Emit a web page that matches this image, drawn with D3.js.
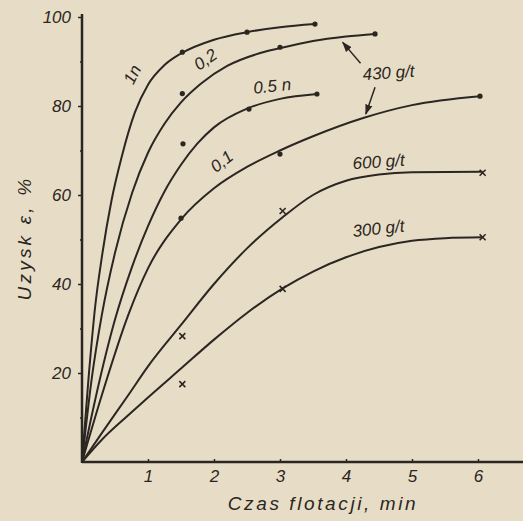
<!DOCTYPE html>
<html>
<head>
<meta charset="utf-8">
<script src="https://cdn.jsdelivr.net/npm/d3@7"></script>
<style>
  html, body { margin: 0; padding: 0; background: #e7ddc6; }
  svg { display: block; }
  text { font-family: "Liberation Sans Narrow", "Liberation Sans", Arial, sans-serif; font-style: italic; fill: #2b2622; }
</style>
</head>
<body>
<div id="chart"></div>
<script>
// axis ticks
const xTicks = [1, 2, 3, 4, 5, 6];
const yTicks = [10, 20, 30, 40, 50, 60, 70, 80, 90, 100];

// smoothed curves: [time min, recovery %]
const curve1n = [[0, 0], [0.1, 19], [0.2, 35], [0.3, 46], [0.45, 59], [0.6, 68.5], [0.8, 78.5], [1.0, 84.8],
  [1.25, 89.2], [1.5, 91.8], [2.0, 94.9], [2.5, 96.6], [3.0, 97.7], [3.53, 98.4]];
const curve02 = [[0, 0], [0.15, 19], [0.3, 33], [0.5, 47], [0.76, 60.5], [1.0, 69.5], [1.25, 76], [1.5, 80.8],
  [1.8, 85], [2.2, 89], [2.7, 91.9], [3.0, 93], [3.5, 94.6], [4.0, 95.6], [4.44, 96.2]];
const curve05 = [[0, 0], [0.2, 14], [0.5, 32], [0.75, 43.5], [1.0, 53], [1.25, 60.8], [1.5, 66.8], [1.75, 71.6],
  [2.0, 75.2], [2.5, 79.4], [3.0, 81.6], [3.56, 82.7]];
const curve01 = [[0, 0], [0.3, 15], [0.7, 33], [1.0, 43.5], [1.5, 54.5], [2.0, 61.5], [2.5, 66.3], [3.0, 70],
  [3.5, 73.2], [4.26, 77.3], [5.0, 80.2], [6.03, 82.2]];
const curve600 = [[0, 0], [0.3, 6.5], [0.7, 15], [1.0, 21.5], [1.5, 30.8], [2.0, 40], [2.5, 48], [3.04, 55],
  [3.5, 60], [4.0, 63.2], [4.5, 64.6], [5.0, 65.1], [6.07, 65.2]];
const curve300 = [[0, 0], [0.3, 5], [0.7, 10.5], [1.0, 14.5], [1.5, 21], [2.0, 27.5], [2.5, 33.5], [3.04, 39],
  [3.5, 42.8], [4.0, 46], [4.5, 48.3], [5.0, 49.7], [5.5, 50.3], [6.07, 50.5]];

// measured points
const dots1n = [[1.52, 92.1], [2.5, 96.6], [3.53, 98.4]];
const dots02 = [[1.52, 82.8], [3.0, 93.2], [4.44, 96.2]];
const dots05 = [[1.53, 71.5], [2.53, 79.3], [3.56, 82.7]];
const dots01 = [[1.5, 54.8], [3.0, 69.2], [6.03, 82.2]];
const cross600 = [[1.52, 28.3], [3.04, 56.4], [6.07, 65]];
const cross300 = [[1.52, 17.5], [3.04, 38.9], [6.07, 50.5]];

// curve labels: text, x, y, angle
const curveLabels = [
  ['1n', 0.84, 86.5, -64],
  ['0,2', 1.92, 89.4, -35],
  ['0.5 n', 2.89, 83.2, -6],
  ['0,1', 2.17, 66.5, -38],
  ['430 g/t', 4.65, 86.2, -4],
  ['600 g/t', 4.5, 66.2, -4],
  ['300 g/t', 4.5, 51.2, -6]
];
// arrows from the 430 g/t label: [x1, y1, x2, y2]
const arrows = [[4.22, 89.6, 3.95, 94.3], [4.44, 84.2, 4.3, 78.2]];

const width = 523, height = 521;
const ink = '#2b2622';

const x = d3.scaleLinear().domain([0, 6]).range([82, 478]);
const y = d3.scaleLinear().domain([0, 100]).range([462, 17]);

const svg = d3.select('#chart').append('svg')
  .attr('width', width).attr('height', height);

svg.append('defs').append('marker')
  .attr('id', 'arr').attr('viewBox', '0 0 10 10')
  .attr('refX', 9).attr('refY', 5)
  .attr('markerWidth', 7).attr('markerHeight', 7)
  .attr('orient', 'auto')
  .append('path').attr('d', 'M0,1.5L10,5L0,8.5Z').attr('fill', ink);

// axes
const yAxis = svg.append('g')
  .attr('transform', `translate(${x(0)},0)`)
  .call(d3.axisLeft(y).tickValues(yTicks).tickSizeOuter(0).tickSize(4).tickPadding(7)
    .tickFormat(d => (d % 20 === 0 ? d : '')));
yAxis.select('.domain').remove();
yAxis.selectAll('.tick line').attr('stroke', ink).attr('stroke-width', 1.5)
  .attr('x2', d => (d % 20 === 0 ? -4 : -2));
yAxis.selectAll('.tick text').style('font-size', '17px').attr('fill', ink).attr('font-family', null);

const xAxis = svg.append('g')
  .attr('transform', `translate(0,${y(0)})`)
  .call(d3.axisBottom(x).tickValues(xTicks).tickFormat(d3.format('d'))
    .tickSizeOuter(0).tickSizeInner(-3).tickPadding(8));
xAxis.select('.domain').remove();
xAxis.selectAll('.tick line').attr('stroke', ink).attr('stroke-width', 1.5);
xAxis.selectAll('.tick text').style('font-size', '17px').attr('fill', ink).attr('font-family', null);

svg.append('line')
  .attr('x1', x(0)).attr('x2', width)
  .attr('y1', y(0)).attr('y2', y(0))
  .attr('stroke', ink).attr('stroke-width', 2.5);
svg.append('line')
  .attr('x1', x(0)).attr('x2', x(0))
  .attr('y1', y(0) + 1).attr('y2', y(100) - 3)
  .attr('stroke', ink).attr('stroke-width', 2.5);

// axis titles
svg.append('text')
  .attr('transform', `translate(31,238) rotate(-90)`)
  .attr('text-anchor', 'middle')
  .style('font-size', '19px').style('letter-spacing', '3.2px')
  .text('Uzysk ε, %');
svg.append('text')
  .attr('x', 323).attr('y', 510)
  .attr('text-anchor', 'middle')
  .style('font-size', '19px').style('letter-spacing', '2.6px')
  .text('Czas flotacji,  min');

// curves
const line = d3.line().x(d => x(d[0])).y(d => y(d[1])).curve(d3.curveMonotoneX);
const curves = [curve1n, curve02, curve05, curve01, curve600, curve300];
svg.append('g').selectAll('path').data(curves).join('path')
  .attr('d', line)
  .attr('fill', 'none')
  .attr('stroke', ink)
  .attr('stroke-width', 2);

// dots
const dots = [].concat(dots1n, dots02, dots05, dots01);
svg.append('g').selectAll('circle').data(dots).join('circle')
  .attr('cx', d => x(d[0])).attr('cy', d => y(d[1]))
  .attr('r', 2.6).attr('fill', ink);

// crosses
const crosses = [].concat(cross600, cross300);
svg.append('g').selectAll('path').data(crosses).join('path')
  .attr('d', d => {
    const cx = x(d[0]), cy = y(d[1]), s = 3;
    return `M${cx - s},${cy - s}L${cx + s},${cy + s}M${cx - s},${cy + s}L${cx + s},${cy - s}`;
  })
  .attr('stroke', ink).attr('stroke-width', 1.6);

// arrows
svg.append('g').selectAll('line').data(arrows).join('line')
  .attr('x1', d => x(d[0])).attr('y1', d => y(d[1]))
  .attr('x2', d => x(d[2])).attr('y2', d => y(d[3]))
  .attr('stroke', ink).attr('stroke-width', 1.5)
  .attr('marker-end', 'url(#arr)');

// curve labels
svg.append('g').selectAll('text').data(curveLabels).join('text')
  .attr('transform', d => `translate(${x(d[1])},${y(d[2])}) rotate(${d[3]})`)
  .attr('text-anchor', 'middle')
  .style('font-size', '17px')
  .text(d => d[0]);
</script>
</body>
</html>
